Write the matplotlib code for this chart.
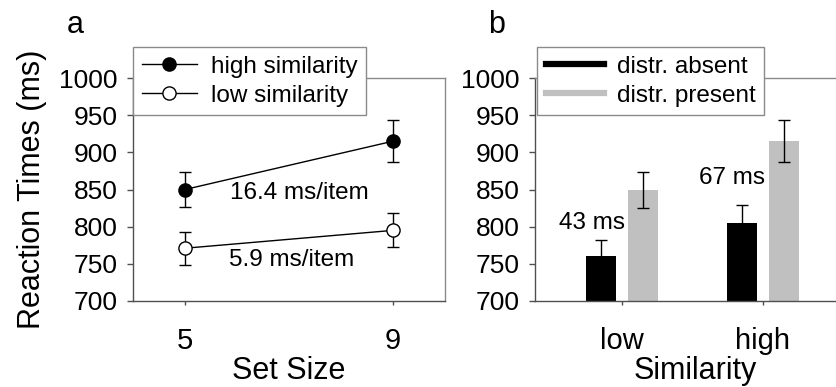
import numpy as np
import matplotlib.pyplot as plt

plt.rcParams['font.family'] = ['Liberation Sans', 'DejaVu Sans']

# panel a: search slopes
set_sizes = [5, 9]
rt_high = [850, 915]
err_high = [24, 28]
rt_low = [771, 795]
err_low = [22, 23]
slope_labels = ["16.4 ms/item", "5.9 ms/item"]

# panel b: distractor effect
sim_cats = ["low", "high"]
rt_absent = [761, 805]
err_absent = [21, 24]
rt_present = [849, 915]
err_present = [24, 28]
cost_labels = ["43 ms", "67 ms"]

W, H = 836, 387
fig = plt.figure(figsize=(W / 100, H / 100), dpi=100)

dark = "#505050"
light = "#8a8a8a"
grey_bar = "#c0c0c0"


def style_axes(ax):
    for s in ["left", "bottom"]:
        ax.spines[s].set_color(dark)
    for s in ["top", "right"]:
        ax.spines[s].set_color(light)
    for s in ax.spines.values():
        s.set_linewidth(1.0)
    ax.set_ylim(700, 1000)
    ax.set_yticks(np.arange(700, 1001, 50))
    ax.tick_params(axis="y", direction="out", length=4, width=1, color=dark,
                   labelsize=19, pad=7)
    ax.tick_params(axis="x", direction="out", length=3, width=1, color=dark,
                   labelsize=21, pad=16)


# ---- panel a
ax1 = fig.add_axes([133 / W, 1 - 301 / H, 312 / W, 223 / H])
style_axes(ax1)
ax1.errorbar(set_sizes, rt_high, yerr=err_high, color="black", lw=1,
             marker="o", ms=9.5, mfc="black", mec="black", capsize=4,
             elinewidth=1, capthick=1, label="high similarity", zorder=3)
ax1.errorbar(set_sizes, rt_low, yerr=err_low, color="black", lw=1,
             marker="o", ms=9.5, mfc="white", mec="black", capsize=4,
             elinewidth=1, capthick=1, label="low similarity", zorder=3)
ax1.set_xlim(4, 10)
ax1.set_xticks(set_sizes)
ax1.text(7.2, 845, slope_labels[0], ha="center", va="center", fontsize=17.5)
ax1.text(7.05, 755, slope_labels[1], ha="center", va="center", fontsize=17.5)
ax1.set_xlabel("Set Size", fontsize=22, labelpad=0.5)
ax1.set_ylabel("Reaction Times (ms)", fontsize=22, labelpad=9)
h, l = ax1.get_legend_handles_labels()
h = [hh[0] for hh in h]
leg1 = fig.legend(h, l, loc="upper left", bbox_to_anchor=(133 / W, 1 - 47 / H),
                  bbox_transform=fig.transFigure, fontsize=17.5, frameon=True,
                  fancybox=False, edgecolor=light, framealpha=1,
                  borderaxespad=0, borderpad=0.35, handlelength=2.3,
                  handletextpad=0.55, labelspacing=0.3)
leg1.get_frame().set_linewidth(1)
fig.text(75 / W, 1 - 33 / H, "a", ha="center", va="baseline", fontsize=22)

# ---- panel b
ax2 = fig.add_axes([535 / W, 1 - 301 / H, 321 / W, 223 / H])
style_axes(ax2)
x = np.arange(len(sim_cats))
bw = 0.213
off = 0.149
ax2.bar(x - off, rt_absent, bw, color="black", label="distr. absent",
        yerr=err_absent, capsize=4, error_kw=dict(elinewidth=1, capthick=1, ecolor="black"))
ax2.bar(x + off, rt_present, bw, color=grey_bar, label="distr. present",
        yerr=err_present, capsize=4, error_kw=dict(elinewidth=1, capthick=1, ecolor="black"))
ax2.set_xlim(-0.617, 1.66)
ax2.set_xticks(x)
ax2.set_xticklabels(sim_cats)
ax2.text(-0.21, 805, cost_labels[0], ha="center", va="center", fontsize=17.5)
ax2.text(0.78, 865, cost_labels[1], ha="center", va="center", fontsize=17.5)
ax2.set_xlabel("Similarity", fontsize=22, labelpad=0.5)
ax2.set_ylim(700, 1000)
lh = [plt.Line2D([], [], color="black", lw=4.5),
      plt.Line2D([], [], color=grey_bar, lw=4.5)]
leg2 = fig.legend(lh, ["distr. absent", "distr. present"], loc="upper left",
                  bbox_to_anchor=(537 / W, 1 - 47 / H),
                  bbox_transform=fig.transFigure, fontsize=17.5, frameon=True,
                  fancybox=False, edgecolor=light, framealpha=1,
                  borderaxespad=0, borderpad=0.35, handlelength=2.4,
                  handletextpad=0.55, labelspacing=0.3)
leg2.get_frame().set_linewidth(1)
fig.text(497 / W, 1 - 33 / H, "b", ha="center", va="baseline", fontsize=22)

fig.savefig("out.png", dpi=100)
